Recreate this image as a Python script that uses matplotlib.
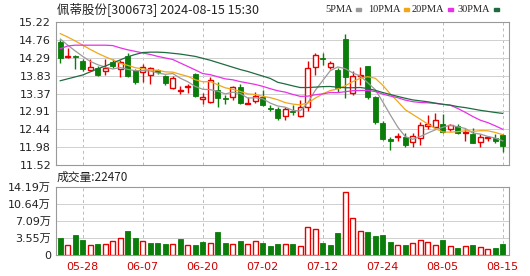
import matplotlib
matplotlib.use('Agg')
import matplotlib.pyplot as plt
import numpy as np

plt.rcParams['font.family'] = ['DejaVu Sans', 'Noto Sans CJK SC']

dates = ['05-23', '05-24', '05-27', '05-28', '05-29', '05-30', '05-31',
         '06-03', '06-04', '06-05', '06-06', '06-07', '06-11', '06-12', '06-13', '06-14',
         '06-17', '06-18', '06-19', '06-20', '06-21', '06-24', '06-25', '06-26', '06-27', '06-28',
         '07-01', '07-02', '07-03', '07-04', '07-05', '07-08', '07-09', '07-10', '07-11', '07-12',
         '07-15', '07-16', '07-17', '07-18', '07-19', '07-22', '07-23', '07-24', '07-25', '07-26',
         '07-29', '07-30', '07-31', '08-01', '08-02', '08-05', '08-06', '08-07', '08-08', '08-09',
         '08-12', '08-13', '08-14', '08-15']

opens = [14.69, 14.32, 14.35, 14.21, 13.97, 14.04, 13.95, 14.18, 14.00, 14.34,
         13.98, 13.93, 13.85, 13.98, 13.82, 13.50, 13.44, 13.53, 13.87, 13.22,
         13.16, 13.46, 13.25, 13.27, 13.55, 13.11, 13.18, 13.29, 13.00, 12.97,
         12.80, 12.91, 12.78, 13.02, 14.05, 14.30, 14.06, 13.98, 14.77, 13.38,
         13.83, 14.08, 13.29, 12.61, 12.18, 12.24, 12.24, 12.11, 12.21, 12.52,
         12.50, 12.57, 12.44, 12.53, 12.35, 12.31, 12.12, 12.23, 12.22, 12.29]
highs = [14.75, 14.54, 14.36, 14.25, 14.25, 14.08, 14.25, 14.25, 14.24, 14.41,
         14.00, 14.13, 14.06, 14.01, 13.85, 13.82, 13.56, 13.61, 13.91, 13.38,
         13.79, 13.66, 13.33, 13.56, 13.61, 13.29, 13.40, 13.46, 13.06, 13.02,
         13.02, 13.08, 13.21, 14.22, 14.43, 14.43, 14.22, 14.02, 14.90, 13.94,
         14.05, 14.08, 13.31, 12.65, 12.25, 12.35, 12.35, 12.35, 12.64, 12.81,
         12.86, 12.83, 12.59, 12.58, 12.44, 12.48, 12.31, 12.27, 12.32, 12.32]
lows = [14.17, 14.30, 14.00, 13.96, 13.94, 13.82, 13.85, 14.03, 13.79, 13.80,
        13.61, 13.68, 13.62, 13.87, 13.59, 13.48, 13.35, 13.38, 13.29, 13.09,
        13.12, 13.03, 13.09, 13.20, 13.10, 13.09, 13.12, 13.05, 12.93, 12.69,
        12.68, 12.82, 12.76, 12.93, 13.85, 14.11, 14.00, 13.42, 13.25, 13.34,
        13.59, 13.23, 12.59, 12.16, 11.92, 12.14, 11.99, 11.99, 12.03, 12.44,
        12.44, 12.35, 12.41, 12.31, 12.13, 12.08, 11.99, 12.14, 12.08, 11.85]
closes = [14.28, 14.34, 14.32, 14.00, 14.06, 13.85, 14.04, 14.07, 14.19, 13.82,
          13.68, 14.06, 14.02, 13.92, 13.65, 13.78, 13.46, 13.56, 13.31, 13.29,
          13.72, 13.26, 13.22, 13.53, 13.12, 13.13, 13.30, 13.08, 12.98, 12.74,
          12.98, 12.88, 13.02, 14.02, 14.36, 14.25, 14.15, 13.51, 13.79, 13.81,
          13.85, 13.28, 12.62, 12.20, 12.14, 12.26, 12.05, 12.28, 12.56, 12.58,
          12.68, 12.38, 12.55, 12.35, 12.37, 12.09, 12.24, 12.25, 12.13, 12.01]

# volume in 万 (10k)
volumes = [3.58, 2.14, 4.07, 3.17, 2.14, 2.34, 2.34, 2.96, 3.52, 5.10,
           3.58, 2.96, 2.55, 2.55, 2.34, 2.34, 3.38, 2.14, 2.14, 2.76,
           2.55, 4.89, 2.55, 2.34, 2.96, 2.34, 2.96, 2.55, 1.93, 2.34,
           2.34, 2.34, 1.93, 5.79, 5.38, 2.55, 2.14, 4.62, 13.23, 7.65,
           5.03, 4.83, 4.00, 4.21, 2.76, 2.14, 2.14, 2.55, 3.17, 2.76,
           2.14, 3.17, 1.93, 1.52, 1.93, 2.14, 1.72, 1.31, 1.52, 2.247]

# moving average values before the window fills
ma5_head = [14.78, 14.62, 14.47, 14.33]
ma10_head = [14.92, 14.83, 14.73, 14.62, 14.51, 14.41, 14.32, 14.24, 14.15]
ma20_head = [14.53, 14.60, 14.62, 14.62, 14.62, 14.62, 14.62, 14.61, 14.55, 14.50,
             14.46, 14.42, 14.38, 14.33, 14.29, 14.25, 14.16, 14.07, 13.98]
ma30_head = [13.70, 13.75, 13.80, 13.85, 13.93, 14.01, 14.08, 14.16, 14.24, 14.32,
             14.38, 14.43, 14.44, 14.44, 14.43, 14.41, 14.39, 14.36, 14.33, 14.28,
             14.23, 14.17, 14.11, 14.05, 13.99, 13.94, 13.88, 13.82, 13.76]

price_ticks = [11.52, 11.98, 12.44, 12.91, 13.37, 13.83, 14.29, 14.76, 15.22]
vol_ticks = [0, 3.55, 7.09, 10.64, 14.19]
vol_tick_labels = ['0', '3.55万', '7.09万', '10.64万', '14.19万']
date_labels = ['05-28', '06-07', '06-20', '07-02', '07-12', '07-24', '08-05', '08-15']

title = '佩蒂股份[300673] 2024-08-15 15:30'
vol_title = '成交量:22470'

RED = '#e60000'
GREEN = '#0a7d0a'
C_MA5 = '#9a9a9a'
C_MA10 = '#f0a818'
C_MA20 = '#e830e8'
C_MA30 = '#1f6b3f'
GRID = '#d0d0d0'
SPINE = '#999999'


def ma(head, n):
    c = np.array(closes)
    out = list(head)
    for i in range(len(head), len(c)):
        out.append(c[i - n + 1:i + 1].mean())
    return np.array(out)


W, H = 530, 276
fig = plt.figure(figsize=(W / 100, H / 100), dpi=100)


def rect(l, t, r, b):
    return [l / W, 1 - b / H, (r - l) / W, (b - t) / H]


ax = fig.add_axes(rect(56, 22, 509, 165))
axv = fig.add_axes(rect(56, 187, 509, 255))

x = np.arange(len(dates))
o = np.array(opens); h = np.array(highs); l = np.array(lows); c = np.array(closes)
up = c >= o
bw = 0.66

for a in (ax, axv):
    for s in a.spines.values():
        s.set_color(SPINE)
        s.set_linewidth(0.8)
    a.tick_params(length=0, labelsize=8, colors='#222222')
    a.set_xlim(-0.57, 59.83)
    tick_pos = [dates.index(d) for d in date_labels]
    for tp in tick_pos:
        a.axvline(tp, color='#bbbbbb', lw=0.7, ls=(0, (3, 3)), zorder=0)

# price panel
ax.set_ylim(11.52, 15.22)
ax.set_yticks(price_ticks)
ax.set_yticklabels([f'{v:.2f}' for v in price_ticks])
for v in price_ticks:
    ax.axhline(v, color=GRID, lw=0.7, zorder=0)
ax.set_xticks([])

ax.vlines(x, l, h, colors=[RED if u else GREEN for u in up], lw=1.0, zorder=2)
bottoms = np.minimum(o, c)
heights = np.maximum(np.abs(c - o), 0.012)
ax.bar(x[up], heights[up], bw, bottom=bottoms[up], facecolor='white',
       edgecolor=RED, lw=1.0, zorder=3)
ax.bar(x[~up], heights[~up], bw, bottom=bottoms[~up], facecolor=GREEN,
       edgecolor=GREEN, lw=0.6, zorder=3)

ax.plot(x, ma(ma5_head, 5), color=C_MA5, lw=0.9, zorder=4)
ax.plot(x, ma(ma10_head, 10), color=C_MA10, lw=0.9, zorder=4)
ax.plot(x, ma(ma20_head, 20), color=C_MA20, lw=0.9, zorder=4)
ax.plot(x, ma(ma30_head, 30), color=C_MA30, lw=0.9, zorder=4)

# volume panel
v = np.array(volumes)
vup = np.array([c[0] >= o[0]] + [c[i] >= c[i - 1] for i in range(1, len(c))])
axv.set_ylim(0, 14.19)
axv.set_yticks(vol_ticks)
axv.set_yticklabels(vol_tick_labels)
for t in vol_ticks[1:]:
    axv.axhline(t, color=GRID, lw=0.7, zorder=0)
axv.bar(x[vup], v[vup], 0.7, facecolor='white', edgecolor=RED, lw=1.0, zorder=3)
axv.bar(x[~vup], v[~vup], 0.7, facecolor=GREEN, edgecolor=GREEN, lw=0.6, zorder=3)
axv.set_xticks([dates.index(d) for d in date_labels])
axv.set_xticklabels(date_labels, color='#cc0000', fontsize=8)
axv.tick_params(axis='x', pad=5)

# texts
fig.text(57 / W, 1 - 9 / H, title, fontsize=9, va='center', ha='left', color='#222222',
         family=['Noto Sans CJK SC', 'DejaVu Sans'])
fig.text(57 / W, 1 - 177 / H, vol_title, fontsize=8.5, va='center', ha='left', color='#222222',
         family=['Noto Sans CJK SC', 'DejaVu Sans'])

legend = [('5PMA', C_MA5, 325), ('10PMA', C_MA10, 368), ('20PMA', C_MA20, 412), ('30PMA', C_MA30, 458)]
for name, col, px in legend:
    t = fig.text(px / W, 1 - 9.5 / H, name, fontsize=7.5, va='center', ha='left',
                 color='#222222', family='Liberation Serif')
    fig.canvas.draw()
    bb = t.get_window_extent()
    fig.patches.append(plt.Rectangle(((bb.x1 + 3) / W, 1 - 11 / H), 5 / W, 3 / H,
                                     transform=fig.transFigure, color=col))

fig.savefig('out.png', dpi=100)
